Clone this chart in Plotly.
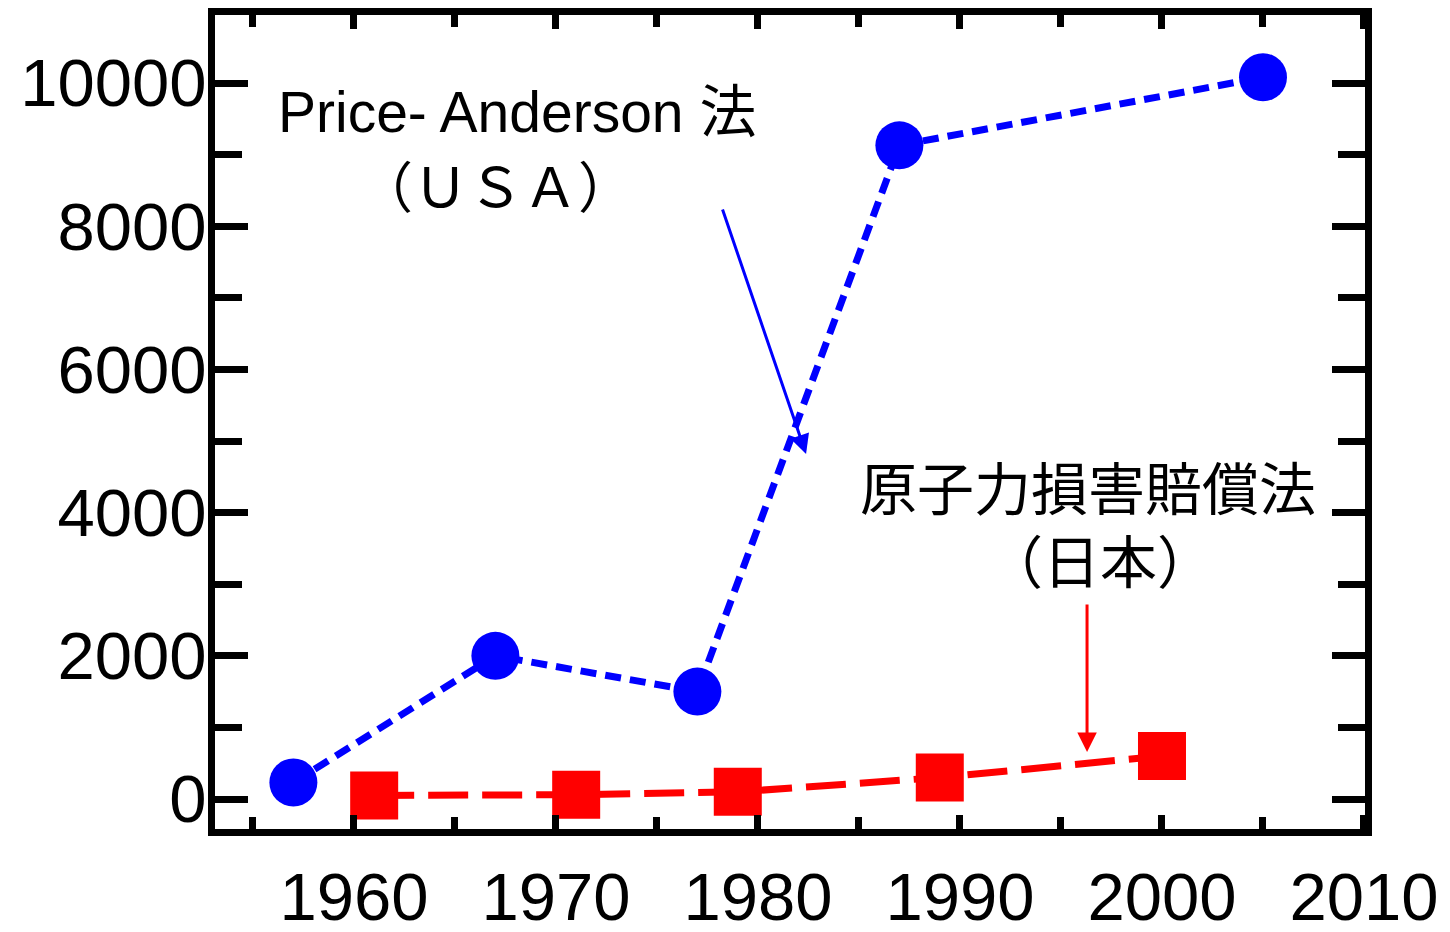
import plotly.graph_objects as go

# Data
us_years = [1957, 1967, 1977, 1987, 2005]
us_values = [230, 2000, 1500, 9130, 10080]
jp_years = [1961, 1971, 1979, 1989, 2000]
jp_values = [50, 60, 100, 300, 600]

x_tick0, x_dtick = 1960, 10
y_tick0, y_dtick = 0, 2000

label_us = "Price- Anderson 法"
label_us2 = "（ＵＳＡ）"
label_jp = "原子力損害賠償法"
label_jp2 = "（日本）"

BLUE = "#0000FF"
RED = "#FF0000"
LATIN = "Liberation Sans, Arial, Noto Sans CJK JP"
CJK = "Noto Sans CJK JP"

fig = go.Figure()
fig.add_trace(go.Scatter(
    x=us_years, y=us_values, mode="lines+markers",
    line=dict(color=BLUE, width=7, dash="16px,9px"),
    marker=dict(symbol="circle", size=48, color=BLUE),
    showlegend=False, cliponaxis=False))
fig.add_trace(go.Scatter(
    x=jp_years, y=jp_values, mode="lines+markers",
    line=dict(color=RED, width=7, dash="40px,14px"),
    marker=dict(symbol="square", size=48, color=RED),
    showlegend=False, cliponaxis=False))

axis_common = dict(
    showgrid=False, zeroline=False, showline=True, linewidth=7, linecolor="black",
    mirror="allticks", ticks="inside", tickwidth=7, tickcolor="black", automargin=False,
    tickfont=dict(family=LATIN, size=67, color="black"),
)

fig.update_layout(
    width=1442, height=924,
    margin=dict(l=207, r=85, t=7, b=103, pad=0),
    paper_bgcolor="white", plot_bgcolor="white",
    xaxis=dict(range=[1953.12, 2010.05], tickmode="linear", tick0=x_tick0, dtick=x_dtick,
               ticklen=14, ticklabelstandoff=4,
               minor=dict(ticks="inside", dtick=5, tick0=1955, ticklen=12, tickwidth=7,
                          tickcolor="black", showgrid=False),
               **axis_common),
    yaxis=dict(range=[-419, 10950], tickmode="linear", tick0=y_tick0, dtick=y_dtick,
               tickformat="d", ticklen=33, ticklabelstandoff=-12,
               minor=dict(ticks="inside", dtick=1000, tick0=0, ticklen=27, tickwidth=7,
                          tickcolor="black", showgrid=False),
               **axis_common),
)

# Text labels
fig.add_annotation(x=1968.07, y=9595, xref="x", yref="y", text=label_us, showarrow=False,
                   font=dict(family=LATIN, size=57, color="black"))
fig.add_annotation(x=1967.0, y=8603, xref="x", yref="y", text=label_us2, showarrow=False,
                   font=dict(family=CJK, size=55, color="black"))
fig.add_annotation(x=1996.34, y=4385, xref="x", yref="y", text=label_jp, showarrow=False,
                   font=dict(family=CJK, size=57, color="black"))
fig.add_annotation(x=1996.93, y=3366, xref="x", yref="y", text=label_jp2, showarrow=False,
                   font=dict(family=CJK, size=57, color="black"))

# Arrows
fig.add_annotation(x=1982.38, y=4818, ax=1978.22, ay=8254, xref="x", yref="y",
                   axref="x", ayref="y", text="", showarrow=True,
                   arrowhead=2, arrowsize=1.3, arrowwidth=3, arrowcolor=BLUE, standoff=0)
fig.add_annotation(x=1996.29, y=656, ax=1996.29, ay=2737, xref="x", yref="y",
                   axref="x", ayref="y", text="", showarrow=True,
                   arrowhead=2, arrowsize=1.3, arrowwidth=3, arrowcolor=RED, standoff=0)

fig.write_html("out.html")
